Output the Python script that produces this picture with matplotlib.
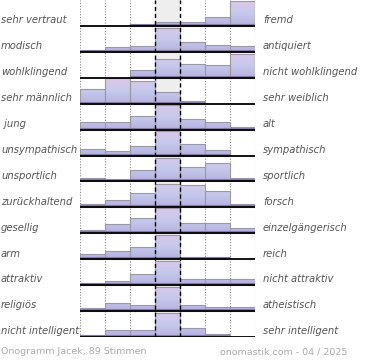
import matplotlib
matplotlib.use("Agg")
import matplotlib.pyplot as plt
from matplotlib.patches import Rectangle
from matplotlib.colors import LinearSegmentedColormap
import numpy as np

left_labels = ["sehr vertraut", "modisch", "wohlklingend", "sehr männlich", " jung",
               "unsympathisch", "unsportlich", "zurückhaltend", "gesellig", "arm",
               "attraktiv", "religiös", "nicht intelligent"]
right_labels = ["fremd", "antiquiert", "nicht wohlklingend", "sehr weiblich", "alt",
                "sympathisch", "sportlich", "forsch", "einzelgängerisch", "reich",
                "nicht attraktiv", "atheistisch", "sehr intelligent"]

# share of votes per scale step (7 steps), relative to the row height
values = [
    [0.00, 0.00, 0.07, 0.15, 0.17, 0.36, 0.96],
    [0.06, 0.18, 0.22, 0.93, 0.37, 0.27, 0.22],
    [0.00, 0.00, 0.31, 0.73, 0.54, 0.49, 0.92],
    [0.55, 1.00, 0.86, 0.45, 0.09, 0.00, 0.00],
    [0.30, 0.30, 0.51, 0.95, 0.42, 0.30, 0.10],
    [0.24, 0.17, 0.36, 0.93, 0.45, 0.23, 0.00],
    [0.12, 0.04, 0.44, 0.90, 0.54, 0.70, 0.12],
    [0.12, 0.28, 0.54, 0.90, 0.86, 0.62, 0.12],
    [0.13, 0.35, 0.60, 0.98, 0.41, 0.41, 0.22],
    [0.19, 0.30, 0.49, 0.95, 0.08, 0.07, 0.00],
    [0.08, 0.15, 0.42, 0.94, 0.24, 0.24, 0.24],
    [0.10, 0.33, 0.22, 0.91, 0.24, 0.17, 0.17],
    [0.08, 0.28, 0.28, 0.92, 0.33, 0.13, 0.00],
]
footer_left = "Onogramm Jacek, 89 Stimmen"
footer_right = "onomastik.com - 04 / 2025"

W, H = 370, 360
fig = plt.figure(figsize=(W / 100, H / 100), dpi=100)
ax = fig.add_axes([80 / W, 1 - 337 / H, 175 / W, 337 / H])
n_rows = len(values)
n_cols = len(values[0])
ax.set_xlim(0, n_cols)
ax.set_ylim(0, n_rows)
ax.axis("off")

cmap = LinearSegmentedColormap.from_list(
    "bar", [(0.0, "#aea4d6"), (0.12, "#bab8e2"), (0.5, "#c6c9ec"), (1.0, "#dec7e8")])
grad = np.linspace(0, 1, 64).reshape(-1, 1)

ax.axvspan(3, 4, color="#eeeeee", zorder=0, lw=0)
for x in [0, 1, 2, 5, 6, 7]:
    ax.axvline(x, color="#888888", lw=0.8, ls=(0, (1, 1.5)), zorder=1)

for r, row in enumerate(values):
    base = n_rows - 1 - r
    for c, h in enumerate(row):
        if h <= 0:
            continue
        im = ax.imshow(grad, cmap=cmap, origin="lower", aspect="auto",
                       extent=(c, c + 1, base, base + 1), zorder=2, interpolation="bilinear")
        rect = Rectangle((c, base), 1, h, fill=False, edgecolor="#9a9a9a", lw=0.8, zorder=3)
        ax.add_patch(rect)
        im.set_clip_path(rect)
        ax.plot([c, c + 1], [base + 0.04, base + 0.04], color="#7c70ae", lw=1.2,
                zorder=3, solid_capstyle="butt")
    ax.plot([0, n_cols], [base, base], color="black", lw=1.3, zorder=4,
            solid_capstyle="butt")
    y_txt = 1 - (337 - (base + 0.22) * 337 / n_rows) / H
    fig.text(1 / W, y_txt, left_labels[r], ha="left", va="center", style="italic",
             fontsize=7.2, color="#555555")
    fig.text(263 / W, y_txt, right_labels[r], ha="left", va="center", style="italic",
             fontsize=7.2, color="#555555")

for x in [3, 4]:
    ax.axvline(x, color="black", lw=1.0, ls=(0, (3, 2)), zorder=5)

fig.text(1 / W, 1 - 352 / H, footer_left, ha="left", va="center", fontsize=6.8,
         color="#aaaaaa")
fig.text(347 / W, 1 - 352 / H, footer_right, ha="right", va="center", fontsize=6.8,
         color="#aaaaaa")

fig.savefig("out.png", dpi=100)
